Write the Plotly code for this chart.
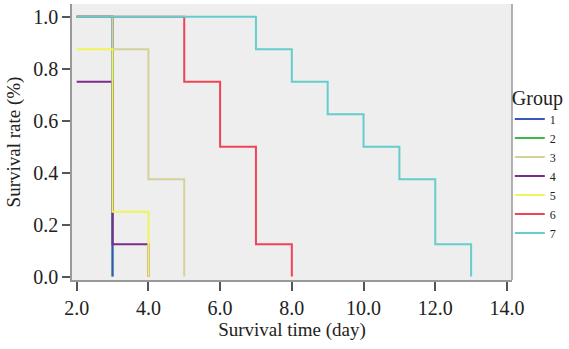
import plotly.graph_objects as go

groups = ["1", "2", "3", "4", "5", "6", "7"]
colors = ["#3b55c0", "#3cb94a", "#d2d29a", "#7b2d8b", "#f2f25a", "#ee4455", "#66cccc"]

t1 = [2, 3]; s1 = [1.0, 0.0]
t2 = [2, 3]; s2 = [1.0, 0.0]
t3 = [2, 3, 4, 5]; s3 = [1.0, 0.875, 0.375, 0.0]
t4 = [2, 3, 4]; s4 = [0.75, 0.125, 0.0]
t5 = [2, 3, 4]; s5 = [0.875, 0.25, 0.0]
t6 = [2, 5, 6, 7, 8]; s6 = [1.0, 0.75, 0.5, 0.125, 0.0]
t7 = [2, 7, 8, 9, 10, 11, 12, 13]; s7 = [1.0, 0.875, 0.75, 0.625, 0.5, 0.375, 0.125, 0.0]

times = [t1, t2, t3, t4, t5, t6, t7]
survs = [s1, s2, s3, s4, s5, s6, s7]
draw_order = [1, 0, 2, 3, 4, 5, 6]

x_ticks = [2, 4, 6, 8, 10, 12, 14]
y_ticks = [0, 0.2, 0.4, 0.6, 0.8, 1.0]

fig = go.Figure()
for i in draw_order:
    fig.add_trace(go.Scatter(x=times[i], y=survs[i], mode="lines",
                             line=dict(color=colors[i], width=2, shape="hv"),
                             name=groups[i], legendrank=i + 1))

font = "Liberation Serif"
fig.update_layout(
    width=569, height=349,
    margin=dict(l=72, r=57, t=4, b=69, autoexpand=False),
    paper_bgcolor="white", plot_bgcolor="#eeeeee",
    font=dict(family=font, color="#222222"),
    showlegend=True,
    legend=dict(x=0.995, xanchor="left", y=0.73, yanchor="top",
                title=dict(text="Group", font=dict(size=20, family=font)),
                font=dict(size=12, family=font), itemwidth=30,
                bgcolor="rgba(0,0,0,0)", borderwidth=0),
    xaxis=dict(range=[1.87, 14.14], tickvals=x_ticks, ticktext=[f"{v:.1f}" for v in x_ticks],
               showgrid=False, zeroline=False, showline=True, linecolor="#999999", linewidth=2,
               ticks="outside", ticklen=9, tickcolor="#555555", tickwidth=1.5,
               tickfont=dict(size=20, family=font), automargin=False,
               title=dict(text="Survival time (day)", font=dict(size=19, family=font), standoff=4)),
    yaxis=dict(range=[-0.013, 1.049], tickvals=y_ticks, ticktext=[f"{v:.1f}" for v in y_ticks],
               showgrid=False, zeroline=False, showline=True, linecolor="#999999", linewidth=1.5,
               ticks="outside", ticklen=8, tickcolor="#555555", tickwidth=1.5,
               tickfont=dict(size=20, family=font), automargin=False,
               title=dict(text="Survival rate (%)", font=dict(size=19, family=font), standoff=8)),
    shapes=[dict(type="line", xref="paper", yref="paper", x0=1, x1=1, y0=0, y1=1,
                 line=dict(color="#999999", width=1.5))],
)

fig.write_html("out.html", config={"displayModeBar": False},
               post_script="document.body.style.margin='0';document.body.style.padding='0';")
